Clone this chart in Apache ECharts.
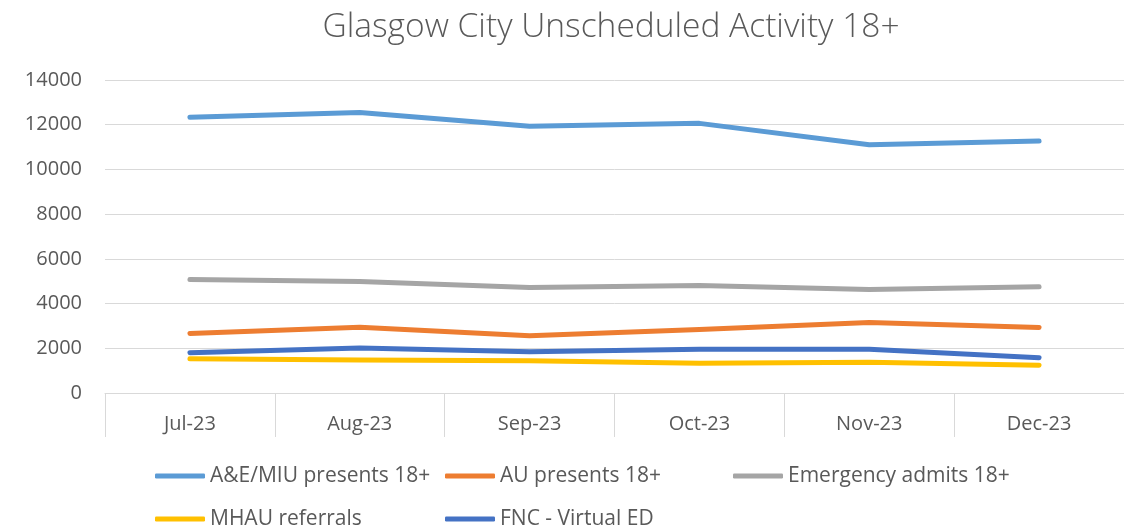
<!DOCTYPE html>
<html><head><meta charset="utf-8">
<script src="https://cdn.jsdelivr.net/npm/echarts@6/dist/echarts.min.js"></script>
<style>html,body{margin:0;padding:0;background:#fff}#c{width:1124px;height:530px}</style>
</head><body><div id="c"></div>
<script>
const categories = ['Jul-23','Aug-23','Sep-23','Oct-23','Nov-23','Dec-23'];
const aeMiu = [12330, 12550, 11930, 12060, 11100, 11270];
const auPresents = [2660, 2940, 2560, 2840, 3150, 2930];
const emergencyAdmits = [5080, 4990, 4720, 4810, 4630, 4750];
const mhauReferrals = [1535, 1475, 1445, 1330, 1370, 1240];
const fncVirtualEd = [1805, 2015, 1840, 1955, 1955, 1580];
const yTicks = {min: 0, max: 14000, interval: 2000};

const FONT = 'Open Sans';
const TXT = '#595959';
function s(name, data, color) {
  return {name, type: 'line', data, symbol: 'none', smooth: false,
    lineStyle: {width: 5, color, cap: 'round', join: 'round'}, itemStyle: {color}};
}
function lg(name, left, top) {
  return {orient: 'horizontal', icon: 'roundRect', itemWidth: 50, itemHeight: 5, padding: 0,
    left, top, data: [name],
    textStyle: {fontFamily: FONT, fontSize: 21, lineHeight: 22, color: TXT}};
}
const chart = echarts.init(document.getElementById('c'), null, {renderer: 'canvas'});
chart.setOption({
  animation: false,
  backgroundColor: '#fff',
  title: {text: 'Glasgow City Unscheduled Activity 18+', left: 606, top: 5, textAlign: 'center',
    textStyle: {fontFamily: FONT, fontWeight: 300, fontSize: 33.5, color: TXT}},
  grid: {left: 105, top: 80, width: 1023, height: 313, containLabel: false},
  legend: [
    lg('A&E/MIU presents 18+', 155, 465),
    lg('AU presents 18+', 445, 465),
    lg('Emergency admits 18+', 733, 465),
    lg('MHAU referrals', 155, 508),
    lg('FNC - Virtual ED', 445, 508)
  ],
  xAxis: {type: 'category', data: categories, boundaryGap: true,
    axisLine: {lineStyle: {color: '#d9d9d9', width: 1}},
    axisTick: {show: true, length: 44, lineStyle: {color: '#d9d9d9'}},
    axisLabel: {fontFamily: FONT, fontSize: 20, color: TXT, margin: 21}},
  yAxis: {type: 'value', min: yTicks.min, max: yTicks.max, interval: yTicks.interval,
    axisLine: {show: false}, axisTick: {show: false},
    splitLine: {lineStyle: {color: '#d9d9d9', width: 1}},
    axisLabel: {fontFamily: FONT, fontSize: 20, color: TXT, margin: 23, formatter: v => String(v)}},
  series: [
    s('A&E/MIU presents 18+', aeMiu, '#5B9BD5'),
    s('AU presents 18+', auPresents, '#ED7D31'),
    s('Emergency admits 18+', emergencyAdmits, '#A5A5A5'),
    s('MHAU referrals', mhauReferrals, '#FFC000'),
    s('FNC - Virtual ED', fncVirtualEd, '#4472C4')
  ]
});
</script></body></html>
